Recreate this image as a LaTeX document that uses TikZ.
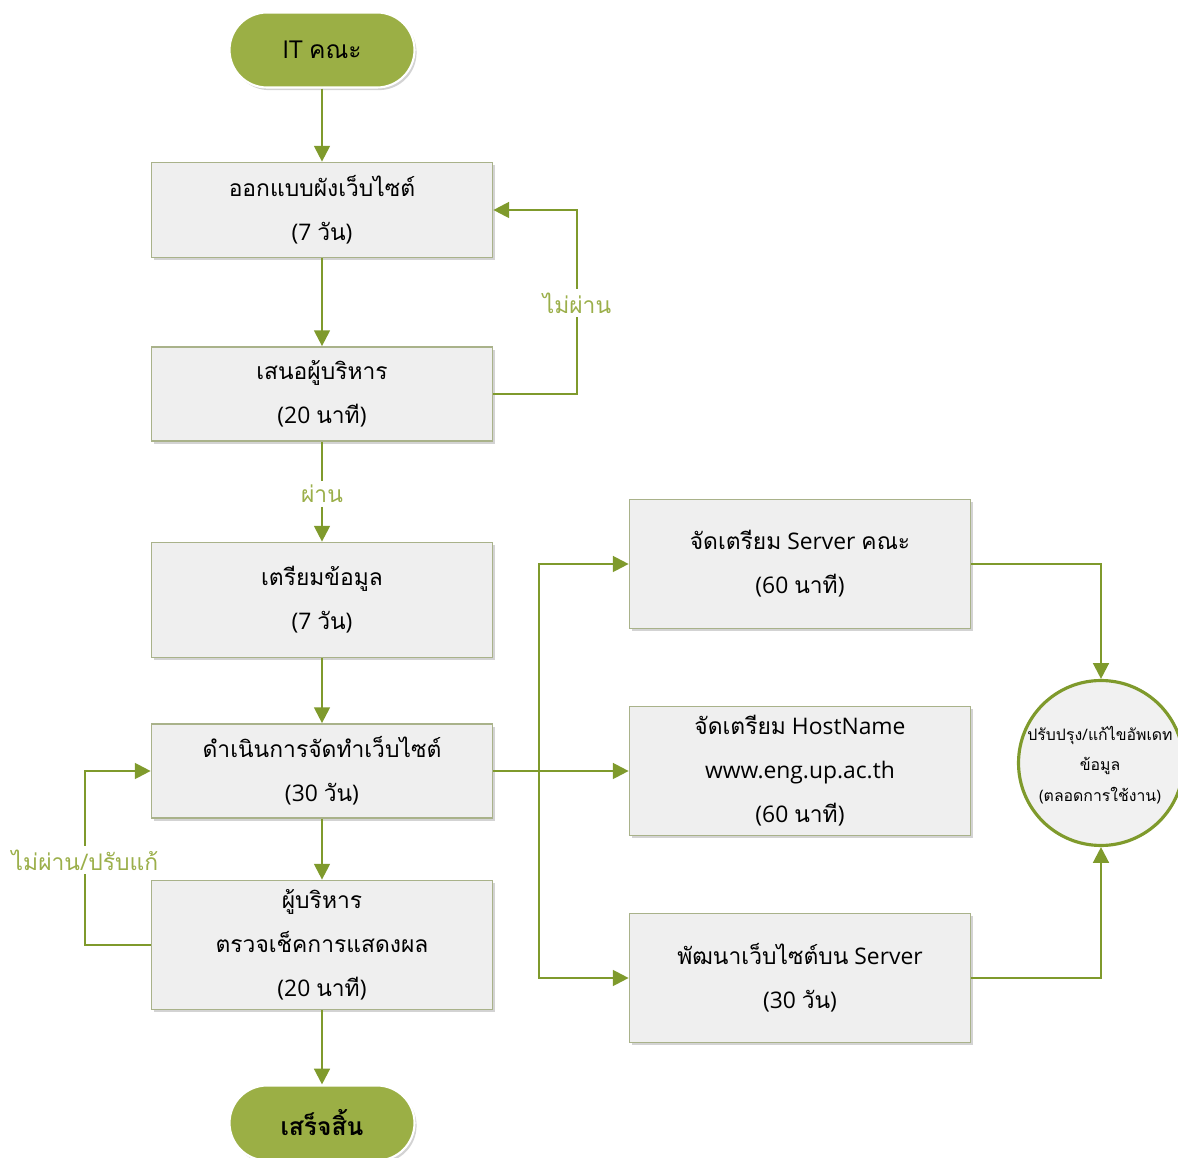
\documentclass[tikz,border=0pt]{standalone}
\usepackage{fontspec}
\setmainfont{Open Sans}
\newfontfamily\thf[Script=Thai]{Loma}
\usetikzlibrary{arrows.meta,shadows}
\definecolor{termfill}{HTML}{9BAF45}
\definecolor{connc}{HTML}{7F9A2C}
\definecolor{lblc}{HTML}{9BAF4A}
\definecolor{boxfill}{HTML}{EFEFEF}
\definecolor{boxline}{HTML}{A9B28A}
\definecolor{circfill}{HTML}{F1F1F1}
\tikzset{
  box/.style={draw=boxline, fill=boxfill, line width=1pt, minimum width=6.82cm,
    align=center, inner sep=2pt, font=\fontsize{13}{25}\selectfont,
    drop shadow={shadow xshift=1.2pt, shadow yshift=-1.5pt, opacity=0.35}},
  term/.style={draw=white, fill=termfill, line width=1.2pt, minimum width=3.7cm,
    minimum height=1.5cm, rounded corners=0.75cm, align=center,
    font=\fontsize{14}{16}\selectfont,
    drop shadow={shadow xshift=1.2pt, shadow yshift=-1.5pt, opacity=0.35}},
  circ/.style={circle, draw=connc, fill=circfill, line width=1.8pt, minimum size=3.3cm,
    inner sep=0pt},
  circtext/.style={align=center, inner sep=0pt, font=\fontsize{9}{17.5}\selectfont},
  lbl/.style={text=lblc, fill=white, inner sep=2pt, font=\fontsize{13}{16}\selectfont},
  lineonly/.style={draw=connc, line width=1.3pt},
  conn/.style={lineonly, -{Triangle[length=9pt,width=9pt]}},
}
\begin{document}
\begin{tikzpicture}[x=0.02cm,y=-0.02cm]
\useasboundingbox (0,0) rectangle (1178,1158);
% main column
\node[term] (start) at (322,50) {IT {\thf คณะ}};
\node[box, minimum height=1.9cm] (b1) at (322,210) {{\thf ออกแบบผังเว็บไซต์}\\(7 {\thf วัน})};
\node[box, minimum height=1.88cm] (b2) at (322,394) {{\thf เสนอผู้บริหาร}\\(20 {\thf นาที})};
\node[box, minimum height=2.3cm] (b3) at (322,600) {{\thf เตรียมข้อมูล}\\(7 {\thf วัน})};
\node[box, minimum height=1.88cm] (b4) at (322,771) {{\thf ดำเนินการจัดทำเว็บไซต์}\\(30 {\thf วัน})};
\node[box, minimum height=2.58cm] (b5) at (322,945) {{\thf ผู้บริหาร}\\{\thf ตรวจเช็คการแสดงผล}\\(20 {\thf นาที})};
\node[term, font=\fontsize{14}{16}\selectfont\bfseries] (finish) at (322,1123) {{\thf\bfseries เสร็จสิ้น}};
% right column
\node[box, minimum height=2.58cm] (r1) at (800,564) {{\thf จัดเตรียม} Server {\thf คณะ}\\(60 {\thf นาที})};
\node[box, minimum height=2.58cm] (r2) at (800,771) {{\thf จัดเตรียม} HostName\\www.eng.up.ac.th\\(60 {\thf นาที})};
\node[box, minimum height=2.58cm] (r3) at (800,978) {{\thf พัฒนาเว็บไซต์บน} Server\\(30 {\thf วัน})};
\node[circ] (c) at (1101,763) {};
\node[circtext] (ct) at (1100,765) {{\thf ปรับปรุง}/{\thf แก้ไขอัพเดท}\\{\thf ข้อมูล}\\({\thf ตลอดการใช้งาน})};
% labels
\node[lbl] (l1) at (577,303) {\thf ไม่ผ่าน};
\node[lbl] (l2) at (322,494) {\thf ผ่าน};
\node[lbl] (l3) at (85,860) {{\thf ไม่ผ่าน}/{\thf ปรับแก้}};
\coordinate (j) at (539,771);
% connectors
\draw[conn] (start) -- (b1);
\draw[conn] (b1) -- (b2);
\draw[lineonly] (b2.east) -| (l1.south);
\draw[conn] (l1.north) |- (b1.east);
\draw[lineonly] (b2) -- (l2);
\draw[conn] (l2) -- (b3);
\draw[conn] (b3) -- (b4);
\draw[conn] (b4) -- (b5);
\draw[conn] (b5) -- (finish);
\draw[lineonly] (b5.west) -| (l3.south);
\draw[conn] (l3.north) |- (b4.west);
\draw[lineonly] (b4.east) -- (j);
\draw[conn] (j) |- (r1.west);
\draw[conn] (j) -- (r2.west);
\draw[conn] (j) |- (r3.west);
\draw[conn] (r1.east) -| (c.north);
\draw[conn] (r3.east) -| (c.south);
\end{tikzpicture}
\end{document}
